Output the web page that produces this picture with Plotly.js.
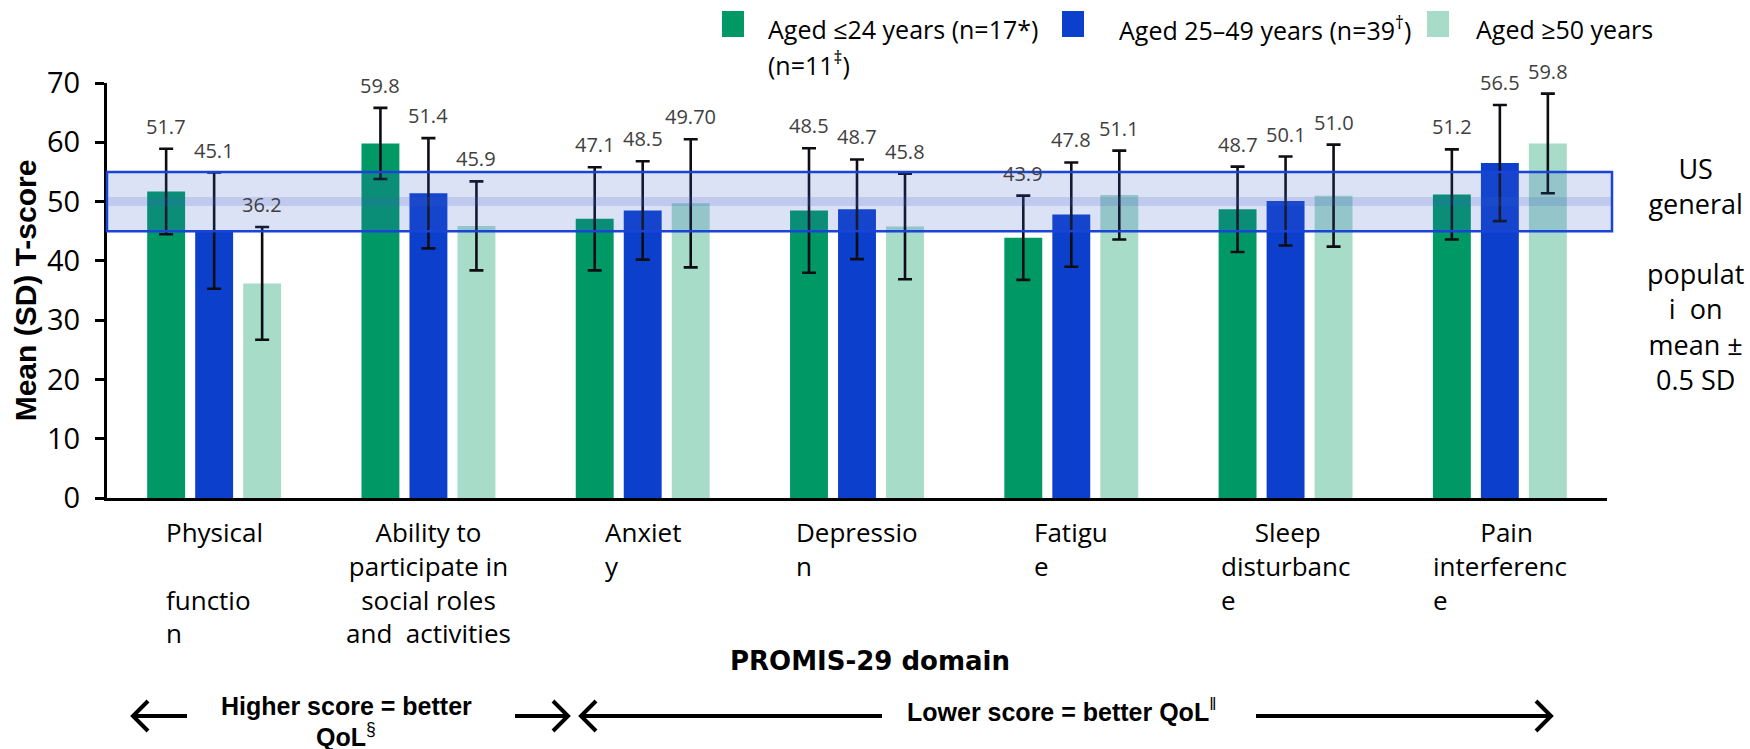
<!DOCTYPE html>
<html>
<head>
<meta charset="utf-8">
<script src="https://cdn.plot.ly/plotly-3.0.1.min.js"></script>
<style>
  html, body { margin: 0; padding: 0; background: #ffffff; }
  #chart { width: 1750px; height: 749px; }
</style>
</head>
<body>
<div id="chart"></div>
<script>
// ---------------- DATA ----------------
const domains = ["Physical function", "Ability to participate", "Anxiety", "Depression", "Fatigue", "Sleep disturbance", "Pain interference"];
const domainTickLabels = [
  "Physical<br><br>functio<br>n",
  "Ability to<br>participate in<br>social roles<br>and\u00a0 activities",
  "Anxiet<br>y",
  "Depressio<br>n",
  "Fatigu<br>e",
  "\u00a0\u00a0\u00a0\u00a0\u00a0Sleep<br>disturbanc<br>e",
  "\u00a0\u00a0\u00a0\u00a0\u00a0\u00a0\u00a0Pain<br>interferenc<br>e"
];
const domainTickAlign = ["left", "center", "left", "left", "left", "left", "left"];

const seriesNames = ["Aged \u226424 years (n=17*)", "Aged 25\u201349 years (n=39<sup>\u2020</sup>)", "Aged \u226550 years"];
const meanAged24 = [51.7, 59.8, 47.1, 48.5, 43.9, 48.7, 51.2];
const meanAged25to49 = [45.1, 51.4, 48.5, 48.7, 47.8, 50.1, 56.5];
const meanAged50 = [36.2, 45.9, 49.7, 45.8, 51.1, 51.0, 59.8];
const sdAged24 = [7.2, 6.0, 8.7, 10.5, 7.1, 7.2, 7.6];
const sdAged25to49 = [9.8, 9.3, 8.3, 8.4, 8.8, 7.5, 9.8];
const sdAged50 = [9.5, 7.5, 10.8, 8.9, 7.5, 8.6, 8.4];
const labelAged24 = ["51.7", "59.8", "47.1", "48.5", "43.9", "48.7", "51.2"];
const labelAged25to49 = ["45.1", "51.4", "48.5", "48.7", "47.8", "50.1", "56.5"];
const labelAged50 = ["36.2", "45.9", "49.70", "45.8", "51.1", "51.0", "59.8"];

const refMean = 50;       // US general population mean
const refHalfSD = 5;      // 0.5 SD

// ---------------- LAYOUT CONSTANTS ----------------
const W = 1750, H = 749;
const M = { l: 107, r: 143, t: 83, b: 251 };
const PW = W - M.l - M.r, PH = H - M.t - M.b;
const px2x = px => (px - M.l) / PW;
const py2y = py => (H - M.b - py) / PH;
const BARGAP = 0.328, BARGROUPGAP = 0.21;
const slotPx = (PW / domains.length) * (1 - BARGAP) / 3;

const colors = ["#009966", "#0c40cc", "#a7dcc9"];
const sansFont = "Open Sans, Noto Sans, sans-serif";
const boldFont = "Liberation Sans, Arial, sans-serif";

const means = [meanAged24, meanAged25to49, meanAged50];
const sds = [sdAged24, sdAged25to49, sdAged50];
const labels = [labelAged24, labelAged25to49, labelAged50];

const traces = means.map((m, j) => ({
  type: "bar",
  name: seriesNames[j],
  x: domains,
  y: m,
  marker: { color: colors[j], line: { width: 0 } },
  error_y: { type: "data", array: sds[j], visible: true, color: "#0d0d14", thickness: 2.6, width: 7 },
  showlegend: false,
  hoverinfo: "skip"
}));

const annotations = [];
// value labels above error bars
means.forEach((m, j) => {
  m.forEach((v, i) => {
    annotations.push({
      x: domains[i], xref: "x", y: v + sds[j][i], yref: "y",
      xshift: (j - 1) * slotPx, yshift: 7,
      yanchor: "bottom", xanchor: "center", showarrow: false,
      text: labels[j][i],
      font: { family: sansFont, size: 20, color: "#404040" }
    });
  });
});
// category labels
domains.forEach((d, i) => {
  annotations.push({
    x: d, xref: "x", y: 0, yref: "paper", yshift: -14,
    xanchor: "center", yanchor: "top", align: domainTickAlign[i], showarrow: false,
    text: domainTickLabels[i],
    font: { family: sansFont, size: 26, color: "#000000" }
  });
});
// x axis title
annotations.push({
  x: px2x(870), xref: "paper", y: py2y(661), yref: "paper", xanchor: "center", yanchor: "middle",
  showarrow: false, text: "<b>PROMIS-29 domain</b>",
  font: { family: "DejaVu Sans, sans-serif", size: 26, color: "#000000" }
});
// right side note
annotations.push({
  x: px2x(1695), xref: "paper", y: py2y(148), yref: "paper", xanchor: "center", yanchor: "top",
  align: "center", showarrow: false,
  text: "US<br>general<br><br>populat<br>i\u00a0\u00a0on<br>mean \u00b1<br>0.5 SD",
  font: { family: sansFont, size: 27, color: "#000000" }
});
// legend texts
const legendItems = [
  { sq: 722, tx: 766, text: "Aged \u226424 years (n=17*)" },
  { sq: 1062, tx: 1117, text: "Aged 25\u201349 years (n=39<sup>\u2020</sup>)" },
  { sq: 1427, tx: 1474, text: "Aged \u226550 years" }
];
legendItems.forEach(it => {
  annotations.push({
    x: px2x(it.tx), xref: "paper", y: py2y(29), yref: "paper", xanchor: "left", yanchor: "middle",
    showarrow: false, text: it.text, font: { family: sansFont, size: 25, color: "#000000" }
  });
});
annotations.push({
  x: px2x(766), xref: "paper", y: py2y(64), yref: "paper", xanchor: "left", yanchor: "middle",
  showarrow: false, text: "(n=11<sup>\u2021</sup>)", font: { family: sansFont, size: 25, color: "#000000" }
});
// bottom QoL texts
annotations.push({
  x: px2x(346), xref: "paper", y: py2y(706), yref: "paper", xanchor: "center", yanchor: "middle",
  showarrow: false, borderpad: 0, text: "<b>Higher score = better</b>",
  font: { family: boldFont, size: 25, color: "#000000" }
});
annotations.push({
  x: px2x(346), xref: "paper", y: py2y(735), yref: "paper", xanchor: "center", yanchor: "middle",
  showarrow: false, borderpad: 0, text: "<b>QoL</b><sup>\u00a7</sup>",
  font: { family: boldFont, size: 25, color: "#000000" }
});
annotations.push({
  x: px2x(1061), xref: "paper", y: py2y(710), yref: "paper", xanchor: "center", yanchor: "middle",
  showarrow: false, text: "<b>Lower score = better QoL</b><sup>\u2016</sup>",
  font: { family: boldFont, size: 25, color: "#000000" }
});

const shapes = [
  // reference band: mean +/- 0.5 SD
  { type: "rect", xref: "paper", yref: "y", x0: 0, x1: px2x(1612), y0: refMean - refHalfSD, y1: refMean + refHalfSD,
    fillcolor: "rgba(60,92,206,0.18)", line: { color: "#1a44d8", width: 2.5 }, layer: "above" },
  { type: "line", xref: "paper", yref: "y", x0: 0, x1: px2x(1611), y0: refMean, y1: refMean,
    line: { color: "rgba(60,92,206,0.18)", width: 9 }, layer: "above" }
];
// legend swatches
legendItems.forEach((it, j) => {
  shapes.push({ type: "rect", xref: "paper", yref: "paper", x0: px2x(it.sq), x1: px2x(it.sq + 22),
    y0: py2y(37), y1: py2y(11), fillcolor: colors[j], line: { width: 0 } });
});
// direction arrows (shaft + open chevron head)
const arrows = [
  { head: 133, tail: 187 },
  { head: 568, tail: 515 },
  { head: 581, tail: 882 },
  { head: 1551, tail: 1256 }
];
const arrowY = 716, chevDepth = 15, chevHalf = 15;
arrows.forEach(a => {
  const dir = Math.sign(a.tail - a.head);
  const path = `M ${px2x(a.tail)},${py2y(arrowY)} L ${px2x(a.head)},${py2y(arrowY)} ` +
               `M ${px2x(a.head + dir * chevDepth)},${py2y(arrowY - chevHalf)} L ${px2x(a.head)},${py2y(arrowY)} ` +
               `L ${px2x(a.head + dir * chevDepth)},${py2y(arrowY + chevHalf)}`;
  shapes.push({ type: "path", xref: "paper", yref: "paper", path: path, line: { color: "#000000", width: 4 } });
});

const layout = {
  width: W, height: H,
  margin: M,
  paper_bgcolor: "#ffffff", plot_bgcolor: "#ffffff",
  barmode: "group", bargap: BARGAP, bargroupgap: BARGROUPGAP,
  showlegend: false,
  xaxis: {
    type: "category", showticklabels: false, ticks: "", showgrid: false, zeroline: false,
    showline: true, linecolor: "#000000", linewidth: 3
  },
  yaxis: {
    range: [0, 70], dtick: 10, tick0: 0, showgrid: false, zeroline: false,
    showline: true, linecolor: "#000000", linewidth: 3,
    ticks: "outside", ticklen: 9, tickwidth: 3, tickcolor: "#000000",
    tickfont: { family: sansFont, size: 29, color: "#000000" },
    ticklabelstandoff: 9,
    title: { text: "<b>Mean (SD) T-score</b>", font: { family: boldFont, size: 30, color: "#000000" }, standoff: 2 }
  },
  annotations: annotations,
  shapes: shapes
};

Plotly.newPlot("chart", traces, layout, { displayModeBar: false, staticPlot: true });
</script>
</body>
</html>
